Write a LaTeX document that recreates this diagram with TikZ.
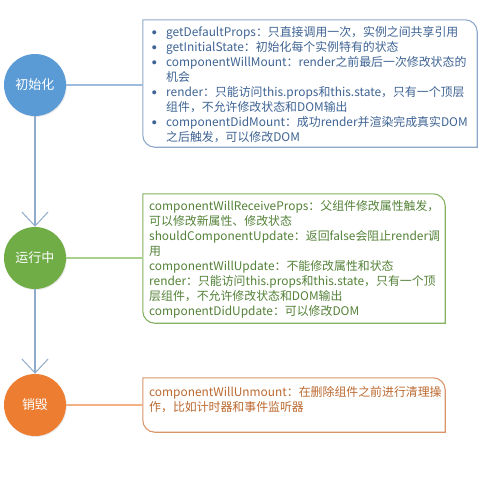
\documentclass[tikz,border=0pt]{standalone}
\usepackage{fontspec}
\setmainfont{Noto Sans CJK SC}
\usetikzlibrary{arrows.meta,shadows}
\definecolor{cblue}{HTML}{5B9BD5}
\definecolor{cgreen}{HTML}{70AD47}
\definecolor{corange}{HTML}{ED7D31}
\definecolor{lblue}{HTML}{9DBBDD}
\definecolor{lgreen}{HTML}{A9D18E}
\definecolor{lorange}{HTML}{F4B183}
\definecolor{bblue}{HTML}{8EA9C8}
\definecolor{bgreen}{HTML}{82B262}
\definecolor{borange}{HTML}{D9966A}
\definecolor{tblue}{HTML}{3F6494}
\definecolor{tgreen}{HTML}{548238}
\definecolor{torange}{HTML}{BC6A30}
\definecolor{arrowc}{HTML}{8FAACB}
\tikzset{
  phase/.style={circle,minimum size=62pt,inner sep=0pt,text=white,
    font=\fontsize{13}{15}\selectfont,
    drop shadow={opacity=0.18,shadow xshift=0.8pt,shadow yshift=-1pt}},
  boxframe/.style={draw=none,inner sep=0pt},
  boxtext/.style={anchor=north west,inner sep=0pt,align=left,
    font=\fontsize{11.9}{15.1}\selectfont},
  flow/.style={draw=arrowc,line width=1.4pt,
    -{Straight Barb[length=14pt,width=26pt,line width=1pt]}},
  link/.style={line width=1.4pt},
}
\newcommand\bul{\makebox[14pt][l]{\raisebox{2pt}{\fontsize{4.5}{15}\selectfont●}}}
\newcommand\ind{\hspace*{14pt}}
\newcommand\frameshape[3]{%
  \draw[#1,line width=1.1pt]
    (#2.north west) -- ([xshift=-#3]#2.north east)
    arc[start angle=90,end angle=0,radius=#3]
    -- (#2.south east) -- ([xshift=#3]#2.south west)
    arc[start angle=270,end angle=180,radius=#3] -- cycle;}
\begin{document}
\begin{tikzpicture}[x=1pt,y=-1pt]
\useasboundingbox (0,0) rectangle (480,480);
% phase circles
\node[phase,fill=cblue] (c1) at (35,85) {初始化};
\node[phase,fill=cgreen] (c2) at (35,258) {运行中};
\node[phase,fill=corange] (c3) at (35,405) {销毁};
% boxes
\node[boxframe,minimum width=334pt,minimum height=127pt] (b1) at (310,83.5) {};
\node[boxframe,minimum width=302pt,minimum height=129pt] (b2) at (294,258.5) {};
\node[boxframe,minimum width=302pt,minimum height=54pt] (b3) at (294,405) {};
\frameshape{draw=bblue,fill=white}{b1}{12pt}
\frameshape{draw=bgreen,fill=white}{b2}{12pt}
\frameshape{draw=borange,fill=white}{b3}{12pt}
% connectors
\draw[link,lblue] (c1.east) -- (c1.east -| b1.west);
\draw[link,lgreen] (c2.east) -- (c2.east -| b2.west);
\draw[link,lorange] (c3.east) -- (c3.east -| b3.west);
\draw[flow] (c1.south) -- (c2.north);
\draw[flow] (c2.south) -- (c3.north);
% texts
\node[boxtext,text=tblue] (t1) at (152,26) {%
\bul getDefaultProps：只直接调用一次，实例之间共享引用\\
\bul getInitialState：初始化每个实例特有的状态\\
\bul componentWillMount：render之前最后一次修改状态的\\
\ind 机会\\
\bul render：只能访问this.props和this.state，只有一个顶层\\
\ind 组件，不允许修改状态和DOM输出\\
\bul componentDidMount：成功render并渲染完成真实DOM\\
\ind 之后触发，可以修改DOM};
\node[boxtext,text=tgreen] (t2) at (149,200) {%
componentWillReceiveProps：父组件修改属性触发，\\
可以修改新属性、修改状态\\
shouldComponentUpdate：返回false会阻止render调\\
用\\
componentWillUpdate：不能修改属性和状态\\
render：只能访问this.props和this.state，只有一个顶\\
层组件，不允许修改状态和DOM输出\\
componentDidUpdate：可以修改DOM};
\node[boxtext,text=torange] (t3) at (149,386) {%
componentWillUnmount：在删除组件之前进行清理操\\
作，比如计时器和事件监听器};
\end{tikzpicture}
\end{document}
